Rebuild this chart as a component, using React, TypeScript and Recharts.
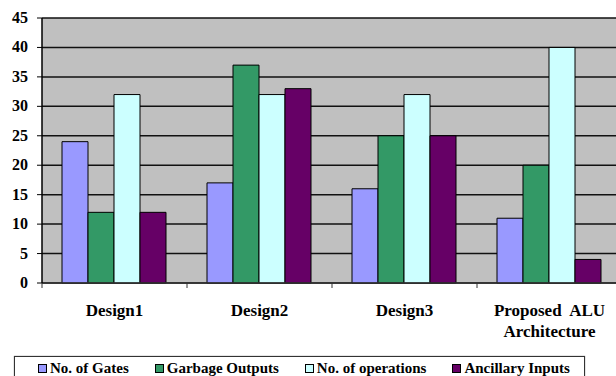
import React from "react";
import { BarChart, Bar, XAxis, YAxis, CartesianGrid, Legend } from "recharts";

const categories = ["Design1", "Design2", "Design3", "Proposed  ALU\nArchitecture"];
const gates = [24, 17, 16, 11];
const garbage = [12, 37, 25, 20];
const operations = [32, 32, 32, 40];
const ancillary = [12, 33, 25, 4];
const yTicks = [0, 5, 10, 15, 20, 25, 30, 35, 40, 45];

const series = [
  { key: "gates", name: "No. of Gates", color: "#9999FF" },
  { key: "garbage", name: "Garbage Outputs", color: "#339966" },
  { key: "operations", name: "No. of operations", color: "#CCFFFF" },
  { key: "ancillary", name: "Ancillary Inputs", color: "#660066" },
];

const data = categories.map((name, i) => ({
  name,
  gates: gates[i],
  garbage: garbage[i],
  operations: operations[i],
  ancillary: ancillary[i],
}));

const FONT = "Liberation Serif";

function CategoryTick(props: any) {
  const { x, y, payload, width } = props;
  const band = width / categories.length;
  const lines = String(payload.value).split("\n");
  return (
    <g>
      <line x1={x - band / 2} x2={x - band / 2} y1={y} y2={y + 5} stroke="#333" />
      {lines.map((l, i) => (
        <text
          key={i}
          x={x}
          y={y + 33 + i * 21}
          textAnchor="middle"
          style={{ fontFamily: FONT, fontWeight: "bold", fontSize: 17, whiteSpace: "pre" }}
          fill="#000"
        >
          {l}
        </text>
      ))}
    </g>
  );
}

function YTick(props: any) {
  const { x, y, payload } = props;
  return (
    <text
      x={x}
      y={y}
      dy={5}
      textAnchor="end"
      style={{ fontFamily: FONT, fontWeight: "bold", fontSize: 16 }}
      fill="#000"
    >
      {payload.value}
    </text>
  );
}

function LegendBox() {
  return (
    <div
      style={{
        border: "1px solid #333",
        boxShadow: "0 0 1px #666",
        height: 22,
        display: "flex",
        alignItems: "center",
        gap: 26,
        paddingLeft: 23,
        fontFamily: FONT,
        fontWeight: "bold",
        fontSize: 15,
        color: "#000",
        whiteSpace: "nowrap",
        lineHeight: "16px",
      }}
    >
      {series.map((s) => (
        <span key={s.key} style={{ display: "flex", alignItems: "center" }}>
          <span
            style={{
              display: "inline-block",
              width: 7,
              height: 7,
              background: s.color,
              border: "1px solid #000",
              marginRight: 3,
            }}
          />
          {s.name}
        </span>
      ))}
    </div>
  );
}

export default function App() {
  return (
    <div style={{ position: "absolute", left: 0, top: 0, width: 616, height: 376, overflow: "hidden", background: "#fff" }}>
      <BarChart
        width={640}
        height={376}
        data={data}
        margin={{ top: 18, right: 18, left: 0, bottom: 33 }}
        barCategoryGap={20}
        barGap={0}
      >
        <CartesianGrid vertical={false} fill="#C0C0C0" stroke="#111" strokeWidth={1.5} />
        <XAxis
          dataKey="name"
          height={60}
          tickLine={false}
          tickSize={0}
          tickMargin={0}
          axisLine={{ stroke: "#333", strokeWidth: 1.5 }}
          tick={<CategoryTick />}
          interval={0}
        />
        <YAxis
          width={42}
          domain={[0, 45]}
          ticks={yTicks}
          interval={0}
          tickSize={5}
          tickMargin={9}
          axisLine={{ stroke: "#000", strokeWidth: 1.5 }}
          tickLine={{ stroke: "#000" }}
          tick={<YTick />}
        />
        <Legend
          layout="horizontal"
          verticalAlign="middle"
          content={<LegendBox />}
          wrapperStyle={{ top: 356, left: 14, width: 571, height: 24 }}
        />
        {series.map((s) => (
          <Bar
            key={s.key}
            dataKey={s.key}
            name={s.name}
            fill={s.color}
            stroke="#000"
            strokeWidth={1}
            isAnimationActive={false}
          />
        ))}
      </BarChart>
    </div>
  );
}
